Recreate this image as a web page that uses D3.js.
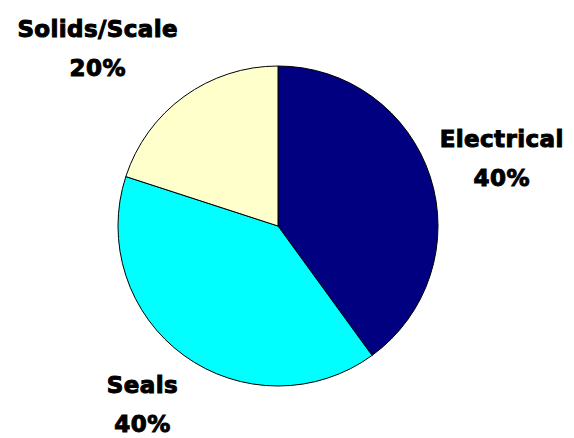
<!DOCTYPE html>
<meta charset="utf-8">
<script src="https://d3js.org/d3.v7.min.js"></script>
<style>
body { margin: 0; background: #fff; }
.label { font-family: "DejaVu Sans", sans-serif; font-weight: bold; font-size: 23px; letter-spacing: 0.4px; fill: #000; stroke: #000; stroke-width: 1px; }
</style>
<body>
<script>
var categories = ["Electrical", "Seals", "Solids/Scale"];
var values = [40, 40, 20];
var colors = ["#000080", "#00ffff", "#ffffcc"];

var width = 574, height = 438;
var cx = 278, cy = 226, radius = 160;

var svg = d3.select("body").append("svg")
    .attr("width", width)
    .attr("height", height);

var data = categories.map(function(c, i) { return {name: c, value: values[i], color: colors[i]}; });
var total = d3.sum(values);

var pie = d3.pie().sort(null).value(function(d) { return d.value; });
var arc = d3.arc().innerRadius(0).outerRadius(radius);

var g = svg.append("g").attr("transform", "translate(" + cx + "," + cy + ")");

g.selectAll("path.slice").data(pie(data)).enter().append("path")
    .attr("class", "slice")
    .attr("d", arc)
    .style("fill", function(d) { return d.data.color; })
    .style("stroke", "#000")
    .style("stroke-width", 1);

// labels outside the pie, two lines: name and percent
var labelR = 170, lineGap = 38.4;
var labels = g.selectAll("text.label").data(pie(data)).enter().append("text")
    .attr("class", "label")
    .attr("text-anchor", "middle");
labels.append("tspan").attr("x", 0).attr("dy", 0).text(function(d) { return d.data.name; });
labels.append("tspan").attr("x", 0).attr("dy", lineGap).text(function(d) { return d3.format(".0%")(d.data.value / total); });

labels.each(function(d) {
    var a = (d.startAngle + d.endAngle) / 2;
    var w = this.getBBox().width;
    var x = labelR * Math.sin(a) + Math.sign(Math.sin(a)) * w / 2;
    var yc = -labelR * Math.cos(a) - Math.cos(a) * 50;
    d3.select(this).attr("transform", "translate(" + x + "," + (yc - 10.7) + ")");
});
</script>
</body>
